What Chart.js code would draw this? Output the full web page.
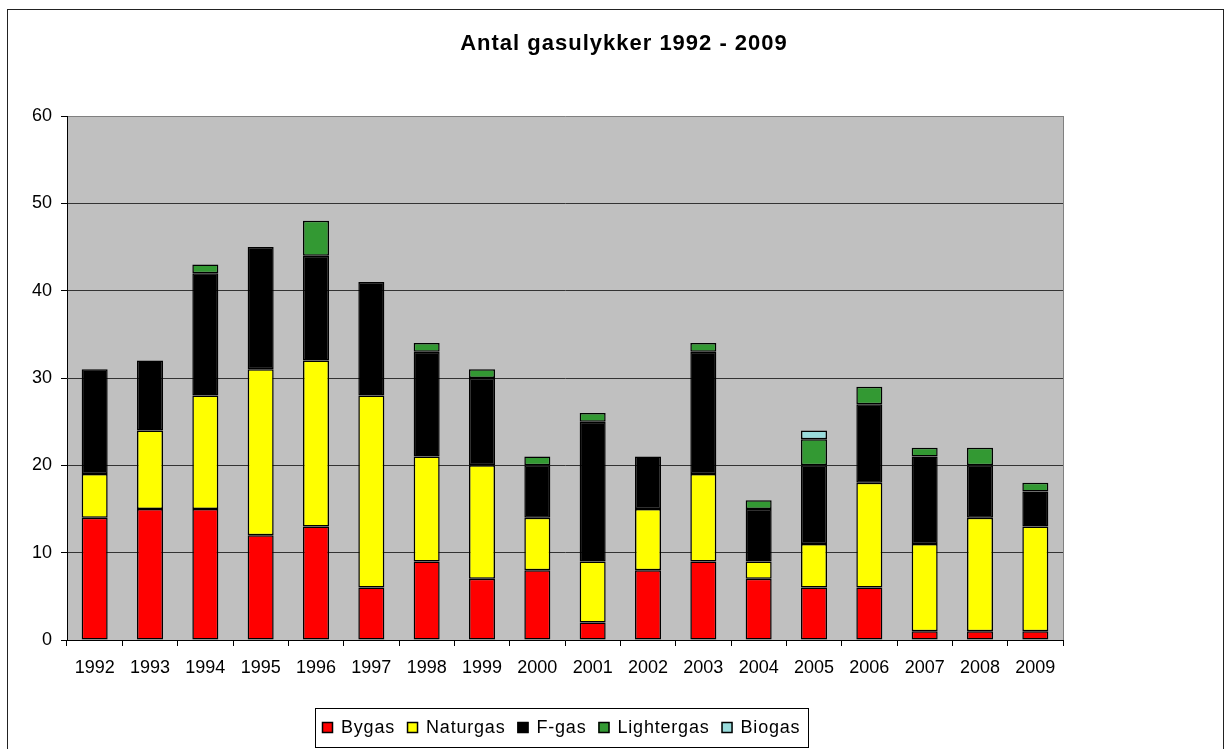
<!DOCTYPE html>
<html lang="da">
  <head>
    <meta charset="UTF-8" />
    <title>Antal gasulykker 1992 - 2009</title>
    <script src="https://cdn.jsdelivr.net/npm/chart.js"></script>
    <style>
      body { margin: 0; background: #fff; }
      #chart { display: block; }
    </style>
  </head>
  <body>
    <canvas id="chart" width="1225" height="749"></canvas>
    <script>
      const years = ["1992", "1993", "1994", "1995", "1996", "1997", "1998", "1999", "2000",
                     "2001", "2002", "2003", "2004", "2005", "2006", "2007", "2008", "2009"];
      const bygas      = [14, 15, 15, 12, 13, 6, 9, 7, 8, 2, 8, 9, 7, 6, 6, 1, 1, 1];
      const naturgas   = [5, 9, 13, 19, 19, 22, 12, 13, 6, 7, 7, 10, 2, 5, 12, 10, 13, 12];
      const fgas       = [12, 8, 14, 14, 12, 13, 12, 10, 6, 16, 6, 14, 6, 9, 9, 10, 6, 4];
      const lightergas = [0, 0, 1, 0, 4, 0, 1, 1, 1, 1, 0, 1, 1, 3, 2, 1, 2, 1];
      const biogas     = [0, 0, 0, 0, 0, 0, 0, 0, 0, 0, 0, 0, 0, 1, 0, 0, 0, 0];
      const yTicks = [0, 10, 20, 30, 40, 50, 60];

      const titleText = "Antal gasulykker 1992 - 2009";
      const FONT = "'Liberation Sans', Arial, sans-serif";

      function series(label, data, color) {
        return {
          label: label,
          data: data,
          backgroundColor: color,
          borderColor: "#000",
          borderWidth: 1.5,
          borderSkipped: false,
          barPercentage: 0.47,
          categoryPercentage: 1,
        };
      }

      // plot background, frame, title and boxed legend
      const decor = {
        id: "decor",
        beforeDraw(chart) {
          const { ctx, chartArea: a } = chart;
          ctx.save();
          ctx.fillStyle = "#c0c0c0";
          ctx.fillRect(a.left, a.top, a.right - a.left, a.bottom - a.top);
          ctx.strokeStyle = "#808080";
          ctx.lineWidth = 1;
          ctx.beginPath();
          ctx.moveTo(Math.round(a.right) + 0.5, a.top);
          ctx.lineTo(Math.round(a.right) + 0.5, a.bottom);
          ctx.stroke();
          ctx.restore();
        },
        afterDraw(chart) {
          const ctx = chart.ctx;
          ctx.save();
          // outer frame
          ctx.strokeStyle = "#222";
          ctx.lineWidth = 1;
          ctx.strokeRect(7.5, 9.5, 1216, 750);

          // title
          ctx.fillStyle = "#000";
          ctx.font = "bold 22px " + FONT;
          ctx.letterSpacing = "1px";
          ctx.textAlign = "center";
          ctx.textBaseline = "alphabetic";
          ctx.fillText(titleText, 624, 50);

          // legend
          ctx.font = "18px " + FONT;
          ctx.letterSpacing = "0.8px";
          ctx.textAlign = "left";
          const items = chart.data.datasets.map((d) => ({
            label: d.label,
            color: d.backgroundColor,
            w: ctx.measureText(d.label).width,
          }));
          const sq = 11, gap = 8, sep = 12;
          let total = 0;
          items.forEach((it, i) => {
            total += sq + gap + it.w + (i < items.length - 1 ? sep : 0);
          });
          const boxL = 315, boxR = 808, boxT = 708, boxB = 747;
          let x = Math.round((boxL + boxR) / 2 - total / 2);
          const cy = 727.5;
          items.forEach((it) => {
            ctx.fillStyle = it.color;
            ctx.fillRect(x, cy - 5.5, sq, sq);
            ctx.strokeStyle = "#000";
            ctx.lineWidth = 1.5;
            ctx.strokeRect(x + 0.5, cy - 5, sq - 1, sq - 1);
            ctx.fillStyle = "#000";
            ctx.textBaseline = "middle";
            ctx.fillText(it.label, x + sq + gap, cy + 1);
            x += sq + gap + it.w + sep;
          });
          ctx.lineWidth = 1;
          ctx.strokeStyle = "#000";
          ctx.strokeRect(boxL + 0.5, boxT + 0.5, boxR - boxL, boxB - boxT);
          ctx.restore();
        },
      };

      Chart.defaults.font.family = FONT;
      Chart.defaults.color = "#000";

      new Chart(document.getElementById("chart"), {
        type: "bar",
        data: {
          labels: years,
          datasets: [
            series("Bygas", bygas, "#ff0000"),
            series("Naturgas", naturgas, "#ffff00"),
            series("F-gas", fgas, "#000000"),
            series("Lightergas", lightergas, "#339933"),
            series("Biogas", biogas, "#99dcdc"),
          ],
        },
        options: {
          responsive: false,
          animation: false,
          layout: { padding: { top: 116, right: 162, bottom: 0, left: 0 } },
          plugins: {
            legend: { display: false },
            title: { display: false },
            tooltip: { enabled: false },
          },
          scales: {
            x: {
              stacked: true,
              offset: true,
              border: { color: "#000", width: 1 },
              grid: {
                offset: true,
                drawOnChartArea: false,
                drawTicks: true,
                tickLength: 6,
                tickColor: "#000",
              },
              ticks: { font: { size: 18 }, padding: 11, maxRotation: 0, color: "#000" },
              afterFit(scale) { scale.height = 109; },
            },
            y: {
              stacked: true,
              min: 0,
              max: 60,
              border: { color: "#000", width: 1 },
              grid: {
                color: (c) => (c.tick && c.tick.value === 60 ? "#808080" : "#333"),
                tickColor: "#000",
                tickLength: 6,
              },
              afterBuildTicks(scale) {
                scale.ticks = yTicks.map((v) => ({ value: v }));
              },
              ticks: { font: { size: 18 }, padding: 9, color: "#000" },
              afterFit(scale) { scale.width = 67; },
            },
          },
        },
        plugins: [decor],
      });
    </script>
  </body>
</html>
